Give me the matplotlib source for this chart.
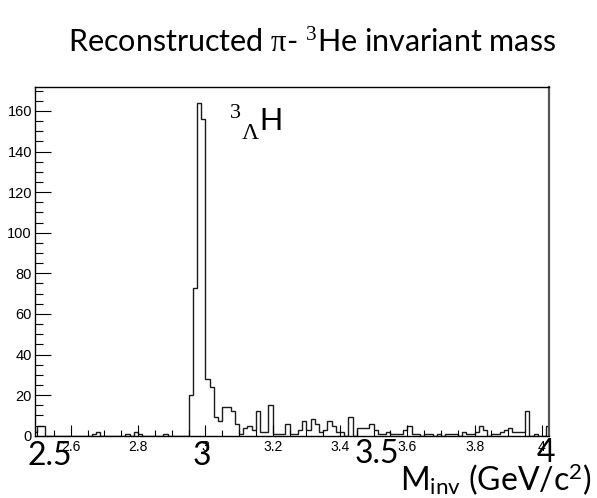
import numpy as np
import matplotlib
matplotlib.use("Agg")
import matplotlib.pyplot as plt
from matplotlib.ticker import MultipleLocator, FormatStrFormatter

# pi- 3He invariant mass, counts per 12.5 MeV bin starting at 2.4875 GeV
counts = [2, 5, 5, 0, 0, 0, 0, 0, 0, 0,
          0, 0, 0, 0, 1, 2, 0, 0, 0, 0,
          0, 0, 1, 0, 2, 1, 0, 0, 0, 0,
          0, 1, 0, 0, 0, 0, 0, 20, 73, 164,
          156, 28, 24, 9, 7, 14, 14, 12, 6, 1,
          4, 5, 3, 12, 2, 2, 15, 1, 1, 1,
          6, 1, 1, 3, 7, 3, 8, 6, 2, 3,
          7, 5, 2, 2, 0, 9, 0, 4, 4, 4,
          6, 3, 1, 1, 2, 1, 1, 1, 3, 5,
          1, 1, 0, 1, 1, 0, 1, 0, 1, 1,
          1, 0, 2, 1, 1, 2, 5, 3, 0, 1,
          1, 2, 3, 4, 2, 2, 2, 12, 0, 1,
          0, 0, 5]
bin_lo = 2.4875
bin_w = 0.0125
x_range = (2.495, 4.021)
y_max = 171.8

big_ticks = ["2.5", "3", "3.5", "4"]
big_tick_pos = [(50, 465), (202, 465), (377, 463), (546, 462)]  # pixels

plt.rcParams['mathtext.fontset'] = 'custom'
plt.rcParams['mathtext.rm'] = 'Liberation Serif'
plt.rcParams['mathtext.it'] = 'Liberation Serif:italic'
plt.rcParams['mathtext.sf'] = 'Lato'
plt.rcParams['mathtext.bf'] = 'Liberation Serif:bold'

W, H = 597, 498
fig = plt.figure(figsize=(W / 100, H / 100), dpi=100)
fig.patch.set_facecolor('white')

def px(x, y):
    # pixel position (from top-left) -> figure fraction
    return x / W, 1 - y / H

# frame in pixel units
left, right, top, bottom = 35.4, 549.0, 87.0, 435.7
ax = fig.add_axes([left / W, 1 - bottom / H, (right - left) / W, (bottom - top) / H])

edges = bin_lo + bin_w * np.arange(len(counts) + 1)
ax.stairs(counts, edges, color='#1a1a1a', lw=1.0, baseline=0)

ax.set_xlim(*x_range)
ax.set_ylim(0, y_max)

ax.xaxis.set_major_locator(MultipleLocator(0.2))
ax.xaxis.set_minor_locator(MultipleLocator(0.05))
ax.yaxis.set_major_locator(MultipleLocator(20))
ax.yaxis.set_minor_locator(MultipleLocator(5))
ax.xaxis.set_major_formatter(FormatStrFormatter('%g'))
ax.yaxis.set_major_formatter(FormatStrFormatter('%g'))

ax.tick_params(axis='both', which='both', direction='in', top=False, right=False,
               width=0.8, color='black')
ax.tick_params(axis='x', which='major', length=7.7, pad=3, labelsize=10)
ax.tick_params(axis='x', which='minor', length=4)
ax.tick_params(axis='y', which='major', length=11.3, pad=2.5, labelsize=10.5)
ax.tick_params(axis='y', which='minor', length=6)
for lab in ax.get_xticklabels() + ax.get_yticklabels():
    lab.set_family('Liberation Sans')
for s in ax.spines.values():
    s.set_linewidth(1.0)
    s.set_color('black')
ax.spines['right'].set_color('#555555')
ax.spines['right'].set_linewidth(1.6)

# hypertriton label: 3 up, Lambda down, then H
fig.text(*px(230, 118), '3', fontsize=16, family='Liberation Serif', va='baseline')
fig.text(*px(242, 139), '\u039b', fontsize=17, family='Liberation Serif', va='baseline')
fig.text(*px(259, 130), 'H', fontsize=23, family='Liberation Sans', va='baseline')

# title
fig.text(*px(312, 52), r'Reconstructed $\mathrm{\pi}$- $^{3}$He invariant mass',
         fontsize=22, family='Lato', ha='center', va='baseline')

# large axis numbers and axis title
for t, (x, y) in zip(big_ticks, big_tick_pos):
    fig.text(*px(x, y), t, fontsize=23, family='Lato', ha='center', va='baseline')
fig.text(*px(400, 490), r'M$_{\mathsf{inv}}$ (GeV/c$^{\mathsf{2}}$)',
         fontsize=23, family='Lato', ha='left', va='baseline')

fig.savefig('out.png', dpi=100, facecolor='white')
